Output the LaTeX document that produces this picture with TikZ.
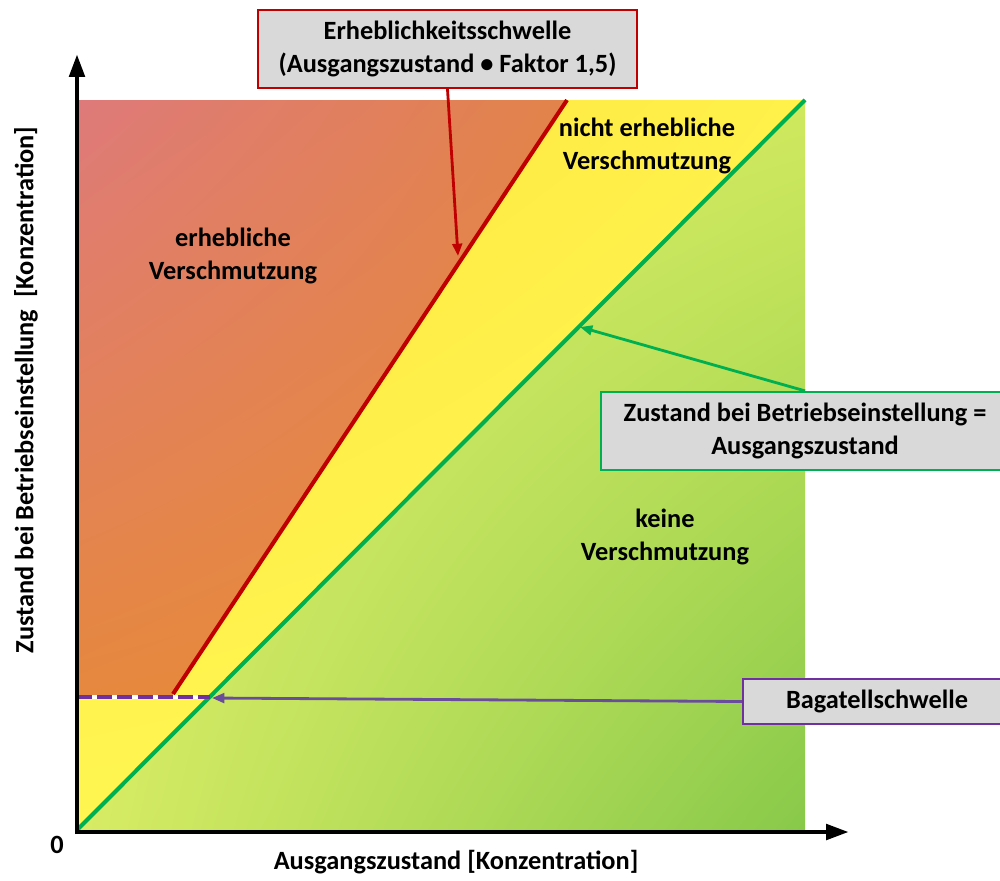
\documentclass[tikz,border=0pt]{standalone}
\usepackage{fontspec}
\setmainfont{Carlito}
\usetikzlibrary{arrows.meta,shadings}
\definecolor{cred}{HTML}{C00000}
\definecolor{cgreen}{HTML}{00B050}
\definecolor{cpurple}{HTML}{7030A0}
\definecolor{cpurplearrow}{HTML}{6A4C9C}
\definecolor{cbox}{HTML}{D9D9D9}
\definecolor{rUL}{HTML}{DE7A7A}
\definecolor{rUR}{HTML}{E2834A}
\definecolor{rLL}{HTML}{E6883E}
\definecolor{rLR}{HTML}{E98C35}
\definecolor{yUL}{HTML}{FFE43E}
\definecolor{yUR}{HTML}{FFF04A}
\definecolor{yLL}{HTML}{FFF652}
\definecolor{yLR}{HTML}{FFF855}
\definecolor{gUL}{HTML}{E4F070}
\definecolor{gUR}{HTML}{D0E95E}
\definecolor{gLL}{HTML}{D8EC64}
\definecolor{gLR}{HTML}{88C94A}
\tikzset{
  lbl/.style={font=\bfseries\fontsize{15pt}{18.3pt}\selectfont, align=center, inner sep=0pt, text=black},
  callout/.style={lbl, fill=cbox, draw=#1, line width=1.3pt},
  axis/.style={line width=2.8pt, -{Triangle[length=13pt,width=8.5pt]}},
  pointer/.style={line width=1.6pt, draw=#1, -{Triangle[length=7pt,width=5.5pt]}},
  boundary/.style={line width=2.3pt, draw=#1},
}
\begin{document}
\begin{tikzpicture}[x=0.02cm,y=-0.02cm]
\useasboundingbox (0,0) rectangle (1000,880);
\clip (0,0) rectangle (1000,880);
% regions
\shade[upper left=rUL, upper right=rUR, lower left=rLL, lower right=rLR]
  (77,100) -- (567,100) -- (173,695) -- (77,695) -- cycle;
\shade[upper left=yUL, upper right=yUR, lower left=yLL, lower right=yLR]
  (567,100) -- (805,100) -- (77,830) -- (77,695) -- (173,695) -- cycle;
\shade[upper left=gUL, upper right=gUR, lower left=gLL, lower right=gLR]
  (805,100) -- (805,830) -- (77,830) -- cycle;
% key points
\coordinate (O) at (77,830);
\coordinate (G1) at (805,100);
\coordinate (R0) at (173,694);
\coordinate (R1) at (567,100);
\coordinate (B0) at (77,697);
\coordinate (B1) at (210,697);
\coordinate (Ytip) at (77,54);
\coordinate (Xtip) at (849,832);
\coordinate (Xstart) at (75,832);
\coordinate (Ystart) at (77,834);
\coordinate (redtip) at (458,256);
\coordinate (greentip) at (580,327);
\coordinate (purpletip) at (212,698);
% boundary lines
\draw[boundary=cgreen] (O) -- (G1);
\draw[boundary=cred] (R0) -- (R1);
\draw[boundary=white] (B0) -- (B1);
\draw[boundary=cpurple, dash pattern=on 8.5pt off 3pt] (B0) -- (B1);
% axes
\draw[axis] (Ystart) -- (Ytip);
\draw[axis] (Xstart) -- (Xtip);
% region labels
\node[lbl] (lred) at (233,256) {erhebliche\\Verschmutzung};
\node[lbl] (lyel) at (647,146) {nicht erhebliche\\Verschmutzung};
\node[lbl] (lgrn) at (665,537) {keine\\Verschmutzung};
% axis labels
\node[lbl] (zero) at (57,845) {0};
\node[lbl] (xlab) at (456,862) {Ausgangszustand [Konzentration]};
\node[lbl, rotate=90] (ylab) at (26,390) {Zustand bei Betriebseinstellung\ \ [Konzentration]};
% callouts
\node[callout=cred, minimum width=7.58cm, minimum height=1.56cm] (erh) at (447.5,49)
  {Erheblichkeitsschwelle\\(Ausgangszustand • Faktor 1,5)};
\node[callout=cgreen, minimum width=8.16cm, minimum height=1.56cm] (zus) at (805,431)
  {Zustand bei Betriebseinstellung =\\Ausgangszustand};
\node[callout=cpurple, minimum width=5.36cm, minimum height=0.9cm] (bag) at (877,701.5)
  {Bagatellschwelle};
% pointers
\draw[pointer=cred] (erh.south) -- (redtip);
\draw[pointer=cgreen] (zus.north) -- (greentip);
\draw[pointer=cpurplearrow] (bag.west) -- (purpletip);
\end{tikzpicture}
\end{document}
